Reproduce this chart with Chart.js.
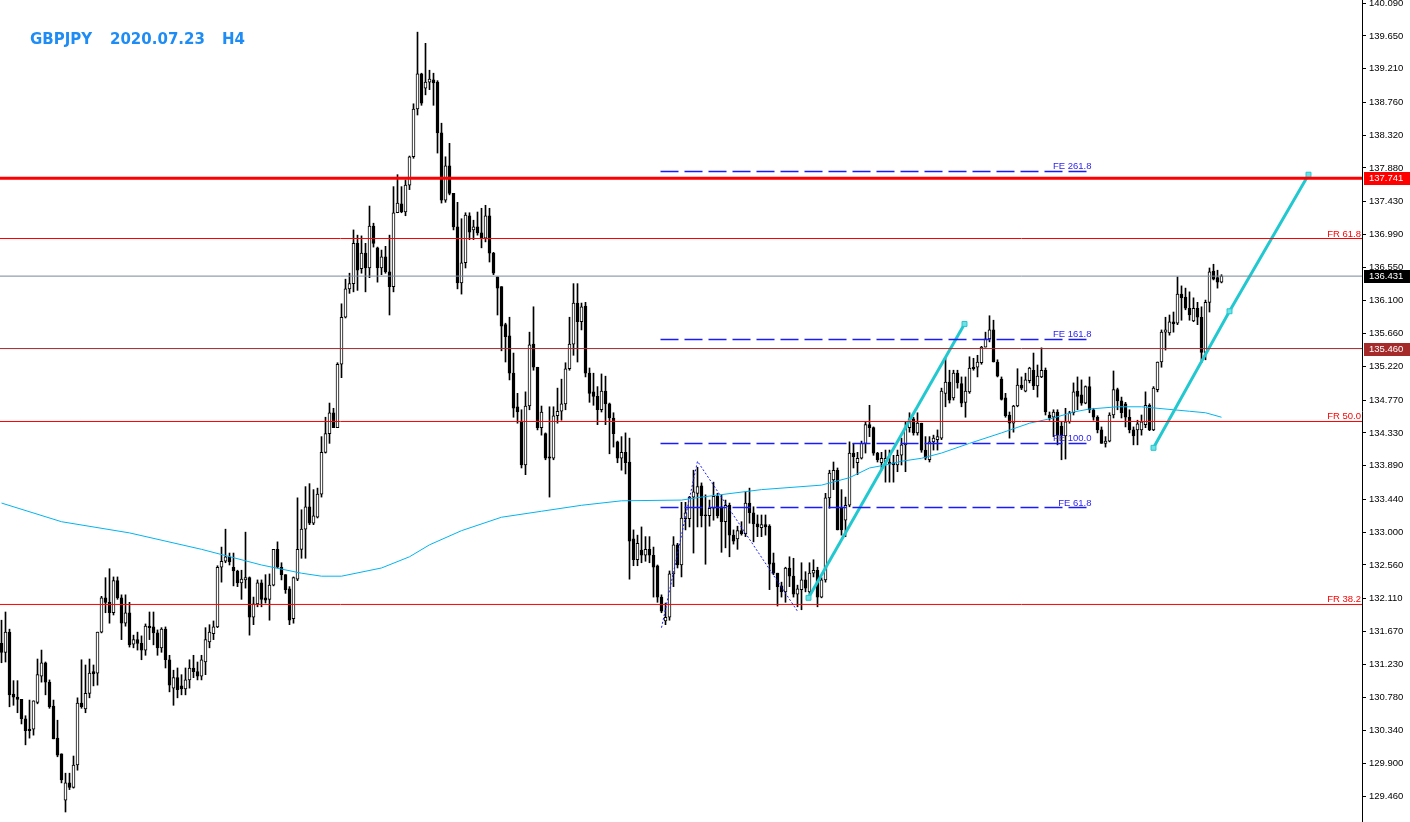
<!DOCTYPE html>
<html>
<head>
<meta charset="utf-8">
<script src="https://cdn.jsdelivr.net/npm/chart.js@4.4.0/dist/chart.umd.min.js"></script>
<style>
html, body { margin: 0; padding: 0; background: #fff; }
#wrap { width: 1410px; height: 822px; }
</style>
</head>
<body>
<div id="wrap"><canvas id="myChart" width="1410" height="822"></canvas></div>
<script>
// GBPJPY H4, do mais antigo para o mais recente
var opens = [
  131.51,131.39,131.66,130.83,130.79,130.76,130.50,130.36,130.36,130.72,
  131.07,131.25,130.99,130.67,130.24,130.03,129.41,129.64,129.58,129.88,
  130.71,130.63,130.84,131.13,131.11,131.66,132.12,132.06,131.92,132.35,
  132.12,131.78,131.92,131.50,131.56,131.51,131.42,131.74,131.73,131.65,
  131.45,131.70,131.29,130.91,131.05,130.94,130.90,131.02,131.18,131.13,
  131.07,131.26,131.53,131.64,131.73,132.53,132.61,132.67,132.53,132.48,
  132.32,132.36,132.39,131.86,132.04,132.32,132.12,132.10,132.29,132.77,
  132.53,132.43,132.24,131.84,132.37,132.77,133.04,133.34,133.12,133.20,
  133.51,134.07,134.32,134.60,134.40,135.25,135.88,136.26,136.33,136.87,
  136.53,136.74,136.54,137.10,136.81,136.54,136.69,136.49,136.29,137.28,
  137.40,137.29,137.65,138.03,138.67,139.14,138.95,139.03,139.06,139.03,
  138.35,137.45,137.91,137.54,137.09,136.34,136.61,137.24,137.05,137.09,
  137.01,136.94,137.24,136.74,136.42,136.29,135.78,135.63,135.13,134.68,
  134.49,133.90,134.69,135.52,135.21,134.40,134.32,134.01,133.99,134.56,
  134.62,134.72,135.19,135.52,136.07,135.82,136.03,135.13,134.88,134.82,
  134.64,134.89,134.72,134.53,134.21,133.99,134.07,133.94,132.91,132.63,
  132.76,132.69,132.77,132.69,132.55,132.13,131.81,131.86,132.44,132.83,
  132.56,133.18,133.18,133.47,133.52,133.62,133.23,133.22,133.32,133.48,
  133.34,133.14,133.36,132.96,132.91,133.02,132.98,133.39,133.26,133.11,
  133.06,133.10,133.08,132.59,132.45,132.28,132.20,132.52,132.41,132.17,
  132.23,132.36,132.20,132.45,132.49,132.13,132.36,133.46,133.70,133.83,
  133.32,133.16,133.36,134.06,133.93,133.99,134.19,134.44,134.40,134.06,
  133.93,133.94,133.94,133.93,133.90,134.03,134.17,134.40,134.52,134.33,
  134.46,134.10,133.97,134.21,134.24,134.26,134.86,135.01,134.80,135.13,
  134.99,134.74,134.88,135.21,135.21,135.27,135.48,135.59,135.71,135.28,
  135.05,134.80,134.57,134.46,134.69,134.97,134.89,135.03,135.17,134.96,
  135.08,135.17,134.57,134.54,134.61,134.42,134.29,134.48,134.60,134.89,
  134.84,134.73,134.95,134.64,134.54,134.37,134.19,134.22,134.57,134.91,
  134.76,134.72,134.54,134.37,134.37,134.37,134.44,134.70,134.37,134.91,
  135.28,135.68,135.67,135.82,135.80,136.19,136.15,136.00,135.83,136.00,
  135.88,135.41,136.08,136.50,136.41,136.35
];
var highs = [
  131.82,131.93,131.70,131.01,131.01,130.76,130.54,130.75,130.74,131.30,
  131.42,131.26,131.02,130.75,130.48,130.03,129.77,129.77,130.00,130.78,
  131.29,131.22,131.30,131.22,131.66,132.14,132.39,132.51,132.40,132.40,
  132.16,132.16,132.06,131.62,131.66,131.61,131.77,131.93,131.93,131.69,
  131.72,131.73,131.35,131.15,131.18,131.09,131.18,131.29,131.35,131.26,
  131.35,131.72,131.76,131.81,132.55,132.80,133.04,132.72,132.72,132.49,
  132.49,133.00,132.40,132.13,132.36,132.36,132.43,132.44,132.77,132.87,
  132.59,132.43,132.27,132.40,133.46,133.30,133.61,133.65,133.57,133.59,
  134.28,134.54,134.73,134.66,135.27,136.06,136.39,136.47,137.05,136.98,
  136.97,136.87,137.37,137.14,136.82,136.78,136.83,136.98,137.63,137.79,
  137.63,137.72,138.04,138.74,139.70,139.15,139.55,139.19,139.15,139.05,
  138.48,138.03,138.21,137.54,137.42,137.20,137.28,137.28,137.18,137.29,
  137.34,137.38,137.34,136.75,136.42,136.29,135.80,135.88,135.40,134.86,
  134.64,134.88,135.68,136.02,135.21,134.69,134.33,134.68,134.68,134.93,
  135.05,135.27,135.88,136.33,136.33,136.07,136.08,135.20,135.13,134.95,
  135.12,135.09,134.73,134.60,134.22,134.28,134.33,134.26,133.03,132.96,
  133.07,132.94,132.94,132.80,132.56,132.16,132.05,132.48,132.94,132.85,
  133.40,133.40,133.48,133.83,133.87,133.66,133.50,133.43,133.67,133.52,
  133.50,133.43,133.39,133.03,133.08,133.14,133.54,133.59,133.34,133.23,
  133.23,133.23,133.10,132.72,132.45,132.33,132.53,132.67,132.65,132.29,
  132.59,132.47,132.59,132.63,132.53,132.39,133.52,133.83,133.94,133.86,
  133.57,133.47,134.21,134.19,134.07,134.22,134.48,134.70,134.41,134.07,
  134.07,134.10,134.10,134.03,134.10,134.26,134.48,134.60,134.54,134.60,
  134.46,134.28,134.28,134.30,134.37,134.93,135.33,135.17,135.17,135.17,
  135.08,135.08,135.35,135.33,135.37,135.49,135.68,135.90,135.84,135.31,
  135.08,134.86,134.61,134.70,135.19,135.08,135.13,135.21,135.40,135.24,
  135.47,135.20,134.61,134.64,134.64,134.48,134.66,134.62,135.00,135.08,
  135.04,134.96,135.08,134.66,134.56,134.41,134.28,134.60,135.16,134.93,
  134.81,134.74,134.64,134.41,134.50,134.57,134.88,134.72,134.95,135.28,
  135.71,135.88,135.91,135.95,136.42,136.30,136.27,136.22,136.14,136.08,
  136.02,136.11,136.54,136.59,136.51,136.45
];
var lows = [
  131.25,131.26,130.66,130.68,130.58,130.43,130.15,130.24,130.28,130.70,
  130.99,130.82,130.64,130.23,129.99,129.64,129.25,129.55,129.57,129.81,
  130.64,130.58,130.78,130.94,130.95,131.65,131.92,131.78,131.89,132.10,
  131.56,131.74,131.46,131.45,131.42,131.29,131.35,131.56,131.49,131.35,
  131.39,131.18,130.86,130.68,130.78,130.82,130.82,130.91,131.05,131.02,
  131.02,131.09,131.45,131.56,131.72,132.33,132.59,132.56,132.28,132.27,
  132.10,132.25,131.62,131.76,132.00,132.00,132.05,131.82,132.28,132.52,
  132.36,132.18,131.76,131.78,132.35,132.65,132.65,133.10,133.10,133.19,
  133.47,134.06,134.19,134.40,134.40,135.07,135.87,136.20,136.22,136.24,
  136.47,136.22,136.41,136.82,136.35,136.45,136.47,135.91,136.22,137.28,
  137.28,137.24,137.59,138.01,138.59,138.72,138.86,138.93,138.72,138.08,
  137.41,137.42,137.52,137.05,136.26,136.19,136.54,136.92,136.92,136.98,
  136.81,136.89,136.62,136.45,135.91,135.43,135.28,135.04,134.54,134.46,
  133.86,133.77,134.64,135.17,134.37,134.30,133.97,133.47,133.97,134.46,
  134.50,134.64,135.17,135.37,135.28,135.71,135.08,134.74,134.70,134.44,
  134.61,134.44,134.05,134.14,133.93,133.83,133.78,132.37,132.55,132.55,
  132.59,132.61,132.59,132.13,132.06,131.92,131.76,131.82,132.27,132.52,
  132.40,133.03,133.07,132.72,133.07,133.07,132.57,133.08,133.16,133.19,
  132.73,132.79,132.67,132.84,132.77,132.96,132.94,133.12,132.87,132.94,
  132.94,132.96,132.23,132.43,132.01,132.13,132.06,132.27,132.13,132.00,
  131.96,132.20,132.12,132.40,132.00,132.12,132.33,133.32,133.57,133.03,
  132.96,132.94,133.34,133.86,133.77,133.98,134.06,134.28,134.03,133.94,
  133.83,133.67,133.67,133.67,133.81,133.90,133.81,134.34,134.30,134.30,
  134.07,133.97,133.94,134.10,134.10,134.24,134.68,134.73,134.77,134.93,
  134.68,134.54,134.86,135.17,135.08,135.25,135.48,135.55,135.28,135.08,
  134.77,134.54,134.26,134.34,134.68,134.91,134.88,135.00,134.91,134.81,
  135.07,134.57,134.50,134.28,134.17,133.97,133.98,134.46,134.57,134.64,
  134.70,134.72,134.60,134.50,134.33,134.19,134.14,134.21,134.53,134.64,
  134.53,134.41,134.33,134.17,134.17,134.30,134.40,134.36,134.36,134.88,
  135.21,135.44,135.64,135.68,135.78,135.84,135.98,135.84,135.82,135.78,
  135.27,135.31,135.95,136.38,136.27,136.34
];
var closes = [
  131.39,131.66,130.82,130.79,130.76,130.50,130.34,130.34,130.74,131.09,
  131.25,130.99,130.66,130.23,130.01,129.68,129.64,129.58,129.88,130.71,
  130.66,130.84,131.11,131.10,131.66,132.12,132.06,131.92,132.35,132.12,
  131.78,131.92,131.49,131.56,131.51,131.42,131.74,131.72,131.65,131.45,
  131.70,131.29,130.95,131.05,130.89,130.90,131.02,131.18,131.13,131.07,
  131.29,131.56,131.66,131.73,132.53,132.61,132.67,132.60,132.48,132.32,
  132.37,132.39,131.86,132.04,132.32,132.10,132.09,132.29,132.77,132.53,
  132.43,132.23,131.82,132.39,132.77,133.04,133.34,133.12,133.22,133.51,
  134.07,134.32,134.60,134.40,135.25,135.88,136.26,136.33,136.87,136.51,
  136.74,136.54,137.10,136.87,136.54,136.69,136.49,136.29,137.28,137.41,
  137.29,137.65,138.03,138.67,139.14,138.75,139.03,139.07,139.02,138.35,
  137.45,137.91,137.54,137.09,136.34,136.61,137.25,137.02,137.09,137.01,
  136.94,137.24,136.74,136.47,136.27,135.76,135.62,135.13,134.66,134.61,
  133.90,134.69,135.51,135.21,134.40,134.61,133.99,133.99,134.56,134.62,
  134.72,135.19,135.52,136.07,135.82,136.02,135.13,134.86,134.82,134.64,
  134.89,134.72,134.53,134.32,133.99,134.07,133.93,132.88,132.63,132.85,
  132.69,132.77,132.69,132.53,132.13,131.94,131.86,132.44,132.83,132.56,
  133.19,133.26,133.47,133.54,133.61,133.22,133.22,133.32,133.48,133.22,
  133.14,133.36,132.96,132.88,133.02,132.98,133.39,133.26,133.11,133.07,
  133.10,133.07,132.57,132.45,132.27,132.20,132.52,132.41,132.17,132.24,
  132.36,132.25,132.45,132.49,132.13,132.36,133.46,133.79,133.83,133.03,
  133.03,133.36,134.06,134.01,133.99,134.19,134.44,134.40,134.06,133.97,
  133.99,133.99,133.91,133.90,134.03,134.17,134.40,134.52,134.33,134.46,
  134.10,133.99,134.21,134.26,134.28,134.89,135.01,134.77,135.13,135.00,
  134.73,134.89,135.20,135.19,135.28,135.48,135.59,135.71,135.28,135.09,
  134.78,134.56,134.46,134.69,134.97,134.93,135.04,135.20,134.96,135.09,
  135.17,134.61,134.53,134.61,134.30,134.29,134.48,134.60,134.88,134.82,
  134.73,134.95,134.64,134.54,134.37,134.19,134.22,134.57,134.91,134.76,
  134.60,134.54,134.37,134.29,134.45,134.48,134.70,134.37,134.93,135.28,
  135.68,135.71,135.82,135.79,136.19,136.14,136.00,135.91,136.00,135.88,
  135.41,136.08,136.49,136.39,136.35,136.43
];

// média móvel (azul claro), amostras: índice do candle -> preço
var maIdx = [0, 15, 32, 50, 65, 75, 80, 85, 95, 102, 107, 115, 125, 135, 145, 155, 170, 175, 190, 205,
  212, 217, 221, 225, 230, 235, 242, 250, 257, 263, 268, 272, 279, 285, 293, 297, 301, 305];
var maVal = [133.39, 133.14, 132.99, 132.77, 132.56, 132.45, 132.41, 132.41, 132.52, 132.67, 132.83, 133.02,
  133.20, 133.28, 133.36, 133.42, 133.43, 133.47, 133.57, 133.63, 133.73, 133.86, 133.90, 133.95, 133.99,
  134.06, 134.19, 134.33, 134.46, 134.53, 134.61, 134.65, 134.68, 134.68, 134.64, 134.62, 134.60, 134.54];

// eixo de preços
var tickValues = [140.090, 139.650, 139.210, 138.760, 138.320, 137.880, 137.430, 136.990, 136.550, 136.100,
  135.660, 135.220, 134.770, 134.330, 133.890, 133.440, 133.000, 132.560, 132.110, 131.670, 131.230,
  130.780, 130.340, 129.900, 129.460];

// linhas horizontais
var frLevels = [136.935, 134.483, 132.031];
var frNames = ['FR 61.8', 'FR 50.0', 'FR 38.2'];
var targetPrice = 137.741;
var bidPrice = 136.431;
var supportPrice = 135.460;

// Fibonacci expansion (A-B-C) e níveis
var zigIdx = [165, 174, 199];
var zigVal = [131.72, 133.95, 131.94];
var feStart = 164.75, feEnd = 271.75;
var feLevels = [137.833, 135.582, 134.188, 133.330];
var feNames = ['FE 261.8', 'FE 161.8', 'FE 100.0', 'FE 61.8'];

// linhas de tendência
var trend1Idx = [201.75, 240.75];
var trend1Val = [132.12, 135.79];
var trend2Idx = [288, 307, 326.75];
var trend2Val = [134.13, 135.96, 137.79];

var xMin = -0.375, xMax = 340.125;
var yMin = 129.116, yMax = 140.131;

var wicks = [], bodies = [], bodyColors = [];
for (var i = 0; i < opens.length; i++) {
  wicks.push({ x: i, y: [lows[i], highs[i]] });
  bodies.push({ x: i, y: [opens[i], closes[i]] });
  bodyColors.push(closes[i] >= opens[i] ? '#ffffff' : '#000000');
}

function pts(xs, ys) {
  return xs.map(function (x, k) { return { x: x, y: ys[k] }; });
}
function hline(v, color, width, dash) {
  return { type: 'line', data: [{ x: xMin, y: v }, { x: xMax, y: v }], borderColor: color,
    borderWidth: width, borderDash: dash || [], pointRadius: 0, fill: false, order: 0 };
}

var datasets = [];
datasets.push(hline(targetPrice, '#ff0000', 3));
frLevels.forEach(function (v) { datasets.push(hline(v, '#ff0000', 1)); });
datasets.push(hline(bidPrice, '#778899', 1));
datasets.push(hline(supportPrice, '#a52a2a', 1));
feLevels.forEach(function (v) {
  datasets.push({ type: 'line', data: [{ x: feStart, y: v }, { x: feEnd, y: v }], borderColor: '#1a1aff',
    borderWidth: 1.5, borderDash: [18, 6], pointRadius: 0, fill: false, order: 0 });
});
datasets.push({ type: 'line', data: pts(zigIdx, zigVal), borderColor: '#1a1aff', borderWidth: 1,
  borderDash: [2, 2], pointRadius: 0, fill: false, tension: 0, order: 0 });
datasets.push({ type: 'line', data: pts(trend1Idx, trend1Val), borderColor: '#22c8d0', borderWidth: 3,
  pointStyle: 'rect', pointRadius: 3.5, pointBackgroundColor: '#6fe0e4', pointBorderColor: '#22c8d0',
  pointBorderWidth: 1, fill: false, tension: 0, order: 0 });
datasets.push({ type: 'line', data: pts(trend2Idx, trend2Val), borderColor: '#22c8d0', borderWidth: 3,
  pointStyle: 'rect', pointRadius: 3.5, pointBackgroundColor: '#6fe0e4', pointBorderColor: '#22c8d0',
  pointBorderWidth: 1, fill: false, tension: 0, order: 0 });
datasets.push({ type: 'line', data: pts(maIdx, maVal), borderColor: '#00b4f0', borderWidth: 1,
  pointRadius: 0, fill: false, tension: 0, order: 0 });
datasets.push({ type: 'bar', data: bodies, backgroundColor: bodyColors, borderColor: '#000000',
  borderWidth: 1, borderSkipped: false, barThickness: 3, minBarLength: 1, grouped: false, order: 1 });
datasets.push({ type: 'bar', data: wicks, backgroundColor: '#000000', borderWidth: 0,
  barThickness: 1, grouped: false, order: 2 });

var textPlugin = {
  id: 'textos',
  afterDraw: function (chart) {
    var c = chart.ctx, xs = chart.scales.x, ys = chart.scales.y, area = chart.chartArea;
    c.save();
    // título
    c.fillStyle = '#1e8cf5';
    c.font = 'bold 15px "DejaVu Sans", Verdana, sans-serif';
    c.textBaseline = 'alphabetic';
    c.textAlign = 'left';
    c.fillText('GBPJPY', 30, 44);
    c.fillText('2020.07.23', 110, 44);
    c.fillText('H4', 222, 44);

    c.font = '9.5px "Liberation Sans", Arial, sans-serif';
    // FR
    c.fillStyle = '#ff0000';
    c.textAlign = 'right';
    frLevels.forEach(function (v, k) {
      c.fillText(frNames[k], area.right - 1, ys.getPixelForValue(v) - 2);
    });
    // FE
    c.fillStyle = '#2a1ef0';
    feLevels.forEach(function (v, k) {
      c.fillText(feNames[k], xs.getPixelForValue(feEnd) + 3, ys.getPixelForValue(v) - 2);
    });
    // etiquetas de preço no eixo
    var tags = [[targetPrice, '#ff0000'], [bidPrice, '#000000'], [supportPrice, '#a52a2a']];
    c.textAlign = 'left';
    c.textBaseline = 'middle';
    tags.forEach(function (t) {
      var py = ys.getPixelForValue(t[0]);
      c.fillStyle = t[1];
      c.fillRect(area.right + 2, Math.round(py) - 6, 46, 13);
      c.fillStyle = '#ffffff';
      c.fillText(t[0].toFixed(3), area.right + 7, Math.round(py) + 0.5);
    });
    c.restore();
  }
};

var ctx = document.getElementById('myChart');
var myChart = new Chart(ctx, {
  type: 'bar',
  data: { datasets: datasets },
  plugins: [textPlugin],
  options: {
    responsive: false,
    animation: false,
    layout: { padding: 0, autoPadding: false },
    plugins: { legend: { display: false }, tooltip: { enabled: false } },
    scales: {
      x: { type: 'linear', min: xMin, max: xMax, display: false, offset: false },
      y: {
        position: 'right', min: yMin, max: yMax,
        afterBuildTicks: function (scale) {
          scale.ticks = tickValues.map(function (v) { return { value: v }; });
        },
        afterFit: function (scale) {
          scale.width = 48;
          scale.paddingTop = 0;
          scale.paddingBottom = 0;
        },
        grid: { display: true, drawOnChartArea: false, drawTicks: true, tickLength: 4, color: '#000000' },
        border: { display: true, color: '#000000', width: 1 },
        ticks: {
          padding: 3, color: '#000000',
          font: { family: '"Liberation Sans", Arial, sans-serif', size: 9.5 },
          callback: function (v) { return Number(v).toFixed(3); }
        }
      }
    }
  }
});
</script>
</body>
</html>
